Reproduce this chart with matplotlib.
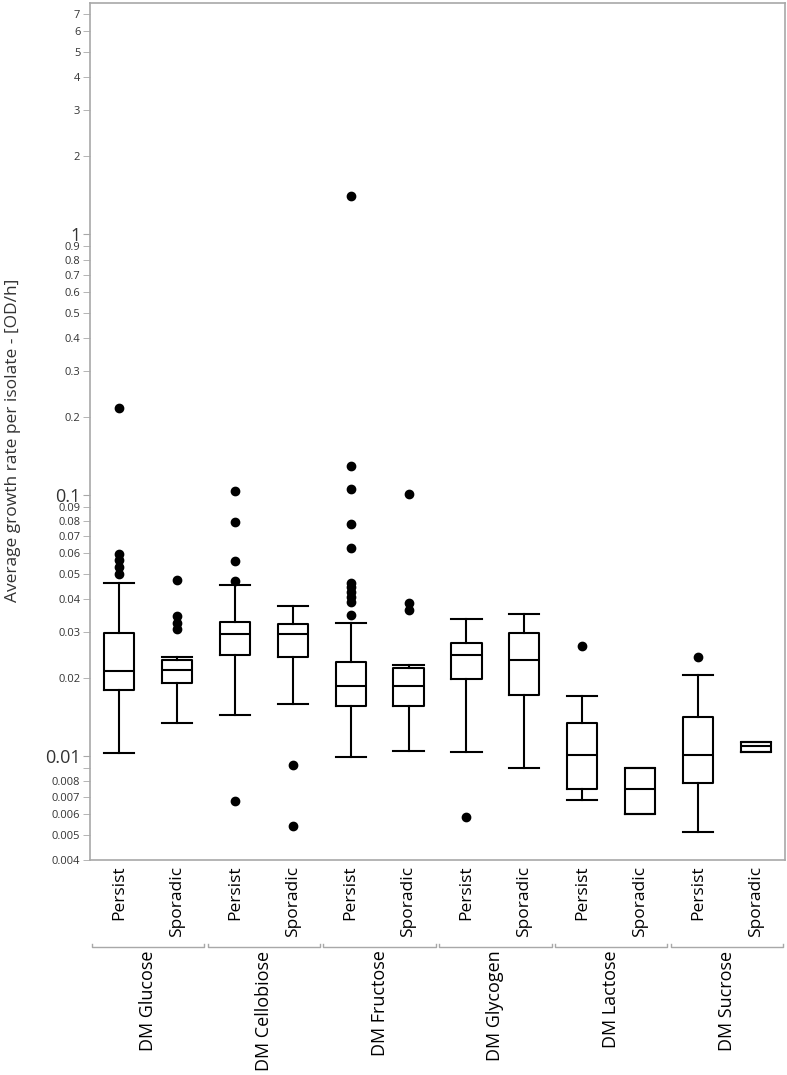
import matplotlib
matplotlib.use('Agg')
from matplotlib import pyplot as plt
from matplotlib import transforms
from matplotlib.ticker import FixedLocator, FixedFormatter

#%% DATA
groups = ['DM Glucose', 'DM Cellobiose', 'DM Fructose', 'DM Glycogen', 'DM Lactose', 'DM Sucrose']
types = ['Persist', 'Sporadic']

# one entry per box, order: group x type
med = [0.0212, 0.0214, 0.0293, 0.0293, 0.0186, 0.0186, 0.0244, 0.0233, 0.0101, 0.0075, 0.0101, 0.0109]
q1 = [0.0180, 0.0191, 0.0244, 0.0239, 0.0156, 0.0156, 0.0197, 0.0172, 0.0075, 0.0060, 0.0079, 0.0104]
q3 = [0.0297, 0.0233, 0.0327, 0.0322, 0.0230, 0.0217, 0.0272, 0.0297, 0.0134, 0.0090, 0.0141, 0.0113]
whislo = [0.0103, 0.0134, 0.0144, 0.0159, 0.0099, 0.0105, 0.0104, 0.0090, 0.0068, 0.0060, 0.0051, 0.0104]
whishi = [0.0461, 0.0240, 0.0453, 0.0378, 0.0323, 0.0223, 0.0337, 0.0351, 0.0170, 0.0090, 0.0205, 0.0113]
fliers = [
    [0.216, 0.0594, 0.0564, 0.0530, 0.0498],
    [0.0472, 0.0345, 0.0323, 0.0307],
    [0.1036, 0.0788, 0.0560, 0.0469, 0.00674],
    [0.00929, 0.00539],
    [1.41, 0.129, 0.106, 0.0774, 0.0628, 0.0461, 0.0445, 0.0426, 0.0408, 0.0390, 0.0347],
    [0.1009, 0.0385, 0.0365],
    [0.00585],
    [],
    [0.0265],
    [],
    [0.0239],
    [],
]

major_ticks = [0.01, 0.1, 1]
major_labels = ['0.01', '0.1', '1']
minor_ticks = [0.004, 0.005, 0.006, 0.007, 0.008, 0.009,
               0.02, 0.03, 0.04, 0.05, 0.06, 0.07, 0.08, 0.09,
               0.2, 0.3, 0.4, 0.5, 0.6, 0.7, 0.8, 0.9,
               2, 3, 4, 5, 6, 7]
minor_labels = ['0.004', '0.005', '0.006', '0.007', '0.008', '',
                '0.02', '0.03', '0.04', '0.05', '0.06', '0.07', '0.08', '0.09',
                '0.2', '0.3', '0.4', '0.5', '0.6', '0.7', '0.8', '0.9',
                '2', '3', '4', '5', '6', '7']

#%% PLOT
plt.rcParams['font.family'] = ['Open Sans', 'DejaVu Sans']
txt_col = '#333333'
frame_col = '#a8a8a8'

fig = plt.figure(figsize=(7.87, 10.75), dpi=100)
ax = fig.add_axes([0.1144, 0.2, 0.883, 0.797])

stats = []
for i in range(len(med)):
    stats.append({'med': med[i], 'q1': q1[i], 'q3': q3[i],
                  'whislo': whislo[i], 'whishi': whishi[i], 'fliers': fliers[i]})
positions = list(range(len(med)))

line = dict(color='black', linewidth=1.5)
ax.bxp(stats, positions=positions, widths=0.52, showfliers=True,
       boxprops=line, whiskerprops=line, capprops=line, medianprops=line,
       capwidths=0.52,
       flierprops=dict(marker='o', markerfacecolor='black', markeredgecolor='black',
                       markersize=6, linestyle='none'))

ax.set_yscale('log')
ax.set_ylim(0.004, 7.7)
ax.set_xlim(-0.5, len(med) - 0.5)

ax.yaxis.set_major_locator(FixedLocator(major_ticks))
ax.yaxis.set_major_formatter(FixedFormatter(major_labels))
ax.yaxis.set_minor_locator(FixedLocator(minor_ticks))
ax.yaxis.set_minor_formatter(FixedFormatter(minor_labels))
ax.tick_params(axis='y', which='major', length=5, color=frame_col, labelsize=13, labelcolor=txt_col, pad=2)
ax.tick_params(axis='y', which='minor', length=5, color=frame_col, labelsize=8, labelcolor=txt_col, pad=2)

ax.set_xticks(positions)
ax.set_xticklabels(types * len(groups), rotation=90, fontsize=12.5, color='black')
ax.tick_params(axis='x', length=0, pad=4)

for s in ax.spines.values():
    s.set_color(frame_col)
    s.set_linewidth(1.2)

ax.set_ylabel('Average growth rate per isolate - [OD/h]', fontsize=12.5, color=txt_col)
ax.yaxis.set_label_coords(-0.1, 0.49)

# group brackets and labels under the tick labels
trans = transforms.blended_transform_factory(ax.transData, ax.transAxes)
y_br = -0.1015
for g in range(len(groups)):
    x0 = 2 * g - 0.47
    x1 = 2 * g + 1 + 0.47
    ax.plot([x0, x0, x1, x1], [y_br + 0.004, y_br, y_br, y_br + 0.004], color=frame_col,
            linewidth=1.0, transform=trans, clip_on=False)
    ax.text(2 * g + 0.5, y_br - 0.004, groups[g], rotation=90, ha='center', va='top',
            fontsize=13, transform=trans, color='black')

plt.savefig('out.png', dpi=100)
plt.close()
